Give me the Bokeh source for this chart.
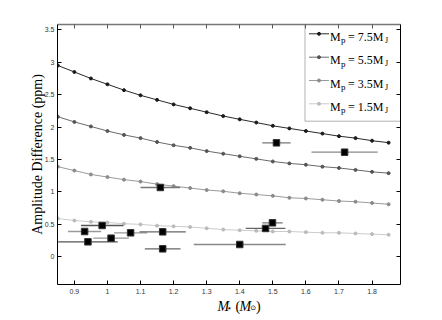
from bokeh.plotting import figure
from bokeh.layouts import column
from bokeh.models import Range1d, FixedTicker, LinearAxis, Label, BoxAnnotation, ColumnDataSource
from bokeh.embed import file_html
from bokeh.resources import INLINE

# ---------------- data ----------------
m_star_grid = [0.85, 0.90, 0.95, 1.00, 1.05, 1.10, 1.15, 1.20, 1.25, 1.30, 1.35,
               1.40, 1.45, 1.50, 1.55, 1.60, 1.65, 1.70, 1.75, 1.80, 1.85]
amp_mp75 = [2.95, 2.85, 2.75, 2.66, 2.57, 2.49, 2.42, 2.35, 2.29, 2.23, 2.17,
            2.12, 2.07, 2.02, 1.98, 1.94, 1.90, 1.86, 1.83, 1.79, 1.76]
amp_mp55 = [2.16, 2.08, 2.01, 1.94, 1.88, 1.83, 1.77, 1.72, 1.68, 1.63, 1.59,
            1.55, 1.51, 1.47, 1.44, 1.42, 1.39, 1.37, 1.34, 1.31, 1.29]
amp_mp35 = [1.39, 1.33, 1.27, 1.23, 1.19, 1.16, 1.12, 1.09, 1.06, 1.03, 1.01,
            0.98, 0.96, 0.94, 0.91, 0.90, 0.88, 0.86, 0.85, 0.83, 0.81]
amp_mp15 = [0.59, 0.56, 0.54, 0.53, 0.51, 0.50, 0.48, 0.47, 0.46, 0.44, 0.42,
            0.41, 0.40, 0.39, 0.39, 0.38, 0.37, 0.37, 0.36, 0.35, 0.34]
series_labels = ["7.5", "5.5", "3.5", "1.5"]

obs_mstar = [1.160, 0.931, 0.984, 0.941, 1.011, 1.070, 1.167, 1.167, 1.400, 1.478, 1.499, 1.511, 1.717]
obs_amp = [1.069, 0.390, 0.483, 0.231, 0.287, 0.370, 0.385, 0.123, 0.190, 0.437, 0.524, 1.757, 1.613]
obs_mstar_err = [0.060, 0.050, 0.064, 0.090, 0.054, 0.050, 0.070, 0.054, 0.139, 0.060, 0.031, 0.043, 0.100]

x_ticks = [0.9, 1.0, 1.1, 1.2, 1.3, 1.4, 1.5, 1.6, 1.7, 1.8]
x_tick_labels = ["0.9", "1", "1.1", "1.2", "1.3", "1.4", "1.5", "1.6", "1.7", "1.8"]
y_ticks = [0, 0.5, 1, 1.5, 2, 2.5, 3, 3.5]
y_tick_labels = ["0", "0.5", "1", "1.5", "2", "2.5", "3", "3.5"]

# ---------------- styles / layout ----------------
line_colors = ["#2a2a2a", "#6a6a6a", "#9a9a9a", "#cbcbcb"]
marker_colors = ["#1a1a1a", "#555555", "#8a8a8a", "#bbbbbb"]
err_colors = ["#777777", "#9a9a9a", "#555555", "#555555", "#999999", "#999999",
              "#666666", "#666666", "#888888", "#666666", "#777777", "#777777", "#888888"]

X0, X1 = 0.849, 1.886
Y0, Y1 = -0.427, 3.582
W, H = 420, 297       # main plot
H2 = 18               # strip holding the x-axis title
FL, FR, FT, FB = 57, 400, 24, 284  # frame edges in picture px

def dx(px):
    return X0 + (px - FL) / (FR - FL) * (X1 - X0)

def dy(py):
    return Y1 - (py - FT) / (FB - FT) * (Y1 - Y0)

p = figure(width=W, height=H, output_backend="svg", toolbar_location=None,
           x_range=Range1d(X0, X1), y_range=Range1d(Y0, Y1),
           min_border_left=FL, min_border_right=W - FR,
           min_border_top=FT, min_border_bottom=H - FB)
p.outline_line_color = None
p.xgrid.visible = False
p.ygrid.visible = False
p.background_fill_color = "white"

tick_font = "Liberation Sans"
serif = "Liberation Serif"
for ax in p.xaxis:
    ax.ticker = FixedTicker(ticks=x_ticks)
    ax.major_label_overrides = {t: l for t, l in zip(x_ticks, x_tick_labels)}
for ax in p.yaxis:
    ax.ticker = FixedTicker(ticks=y_ticks)
    ax.major_label_overrides = {t: l for t, l in zip(y_ticks, y_tick_labels)}

for ax in list(p.xaxis) + list(p.yaxis):
    ax.major_tick_in = 4
    ax.major_tick_out = 0
    ax.minor_tick_in = 0
    ax.minor_tick_out = 0
    ax.axis_line_color = "black"
    ax.major_tick_line_color = "black"
    ax.major_label_text_font = tick_font
    ax.major_label_text_font_size = "7px"
    ax.major_label_text_color = "#333333"
p.xaxis.major_label_standoff = 4
p.yaxis.major_label_standoff = 3

p.yaxis.axis_label = "Amplitude Difference (ppm)"
p.yaxis.axis_label_text_font = serif
p.yaxis.axis_label_text_font_style = "normal"
p.yaxis.axis_label_text_font_size = "14px"
p.yaxis.axis_label_text_color = "black"
p.yaxis.axis_label_standoff = -3

top_ax = LinearAxis(ticker=FixedTicker(ticks=x_ticks), major_tick_in=4, major_tick_out=0,
                    minor_tick_in=0, minor_tick_out=0,
                    major_label_overrides={t: "" for t in x_ticks},
                    axis_line_color="#777777", axis_line_width=1.5, major_tick_line_color="#555555")
right_ax = LinearAxis(ticker=FixedTicker(ticks=y_ticks), major_tick_in=4, major_tick_out=0,
                      minor_tick_in=0, minor_tick_out=0,
                      major_label_overrides={t: "" for t in y_ticks},
                      axis_line_color="black", major_tick_line_color="black")
p.add_layout(top_ax, "above")
p.add_layout(right_ax, "right")

# ---------------- legend box (underneath everything) ----------------
box = BoxAnnotation(left=dx(304.5), right=dx(400), top=dy(24), bottom=dy(120.7),
                    fill_color="white", fill_alpha=1.0, line_color="black", line_width=1,
                    level="underlay")
p.add_layout(box)

# ---------------- curves ----------------
series = [amp_mp75, amp_mp55, amp_mp35, amp_mp15]
for amps, lc, mc in zip(series, line_colors, marker_colors):
    src = ColumnDataSource(dict(x=m_star_grid, y=amps))
    p.line("x", "y", source=src, line_color=lc, line_width=1)
    p.scatter("x", "y", source=src, marker="circle", size=3,
              fill_color=mc, line_color=mc)

# ---------------- observations ----------------
osrc = ColumnDataSource(dict(
    x0=[m - e for m, e in zip(obs_mstar, obs_mstar_err)],
    x1=[m + e for m, e in zip(obs_mstar, obs_mstar_err)],
    x=obs_mstar, y=obs_amp, c=err_colors))
p.segment(x0="x0", x1="x1", y0="y", y1="y", source=osrc, line_color="c", line_width=1.3)
p.scatter("x", "y", source=osrc, marker="square", size=6.5,
          fill_color="black", line_color="#333333", line_width=1)

# ---------------- legend (manual, with subscripts) ----------------
row_y = [33.3, 56.7, 80.0, 103.3]
for lab, ry, lc, mc in zip(series_labels, row_y, line_colors, marker_colors):
    p.line([dx(308.5), dx(328.5)], [dy(ry), dy(ry)], line_color=lc, line_width=1)
    p.scatter([dx(318.5)], [dy(ry)], marker="circle", size=3, fill_color=mc, line_color=mc)
    base = ry + 3.2
    p.add_layout(Label(x=dx(329.5), y=dy(base), text="M", text_font=serif, text_font_size="12px",
                       text_baseline="alphabetic", text_align="left", text_color="black",
                       level="overlay"))
    p.add_layout(Label(x=dx(340.5), y=dy(base + 3.3), text="p", text_font=serif, text_font_size="9px",
                       text_baseline="alphabetic", text_align="left", text_color="black",
                       level="overlay"))
    p.add_layout(Label(x=dx(347.5), y=dy(base), text="= " + lab + "M", text_font=serif,
                       text_font_size="12px", text_baseline="alphabetic", text_align="left",
                       text_color="black", level="overlay"))
    p.add_layout(Label(x=dx(384.5), y=dy(base + 3.3), text="J", text_font=serif, text_font_size="8px",
                       text_baseline="alphabetic", text_align="left", text_color="black",
                       level="overlay"))

# ---------------- x axis title strip (with subscripts) ----------------
p2 = figure(width=W, height=H2, output_backend="svg", toolbar_location=None,
            x_range=Range1d(0, W), y_range=Range1d(0, H2),
            x_axis_type=None, y_axis_type=None, min_border=0,
            min_border_left=0, min_border_right=0, min_border_top=0, min_border_bottom=0)
p2.outline_line_color = None
p2.background_fill_color = "white"

xb = 305.5 - H  # baseline inside the strip, from its top
pieces = [
    (196.0, 0.0, "M", serif, "italic", "14px"),
    (207.0, 1.5, "\u22c6", "DejaVu Sans", "normal", "9px"),
    (218.0, 0.0, "(", serif, "normal", "14px"),
    (223.0, 0.0, "M", serif, "italic", "14px"),
    (236.0, 2.0, "\u2299", "DejaVu Sans", "normal", "7px"),
    (243.0, 0.0, ")", serif, "normal", "14px"),
]
for px, off, txt, fnt, sty, sz in pieces:
    p2.add_layout(Label(x=px, y=H2 - (xb + off), text=txt, text_font=fnt, text_font_style=sty,
                        text_font_size=sz, text_baseline="alphabetic", text_align="left",
                        text_color="black", level="overlay"))

layout = column(p, p2, spacing=0)
open("out.html", "w").write(file_html(layout, INLINE))
